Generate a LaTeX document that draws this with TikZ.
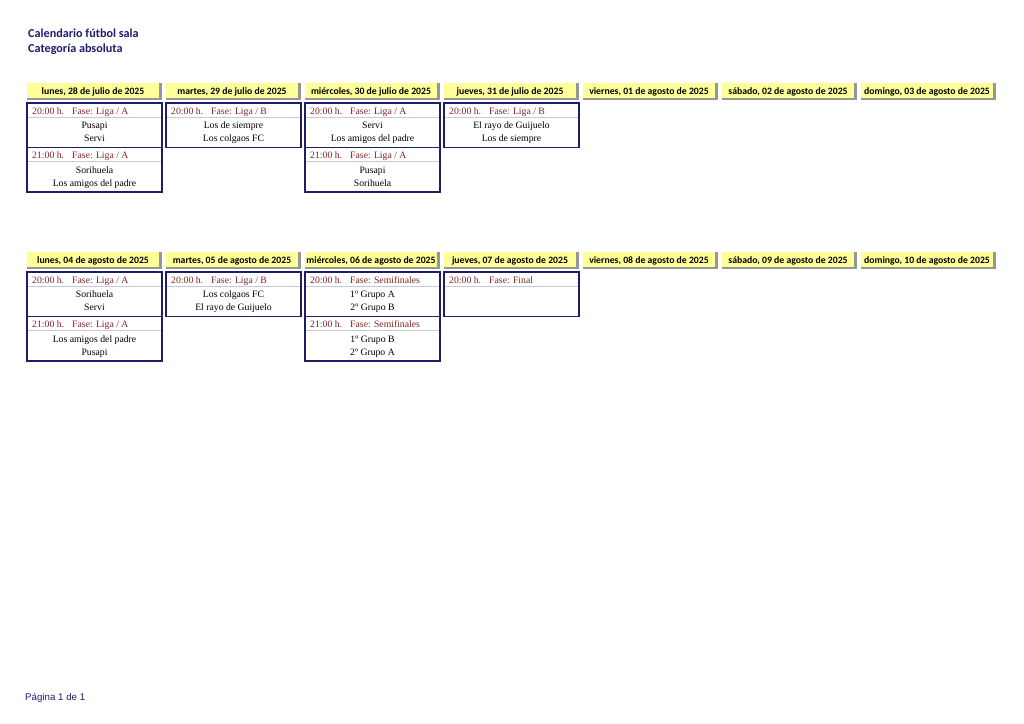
\documentclass[tikz,border=0pt]{standalone}
\usepackage{fontspec}
\setmainfont{Liberation Serif}
\newfontfamily\calibri{Carlito}
\newfontfamily\arialfont{Liberation Sans}
\definecolor{titleblue}{RGB}{28,28,110}
\definecolor{boxblue}{RGB}{30,30,100}
\definecolor{timered}{RGB}{128,36,36}
\definecolor{headyellow}{RGB}{255,255,153}
\definecolor{headshadow}{RGB}{150,150,150}
\definecolor{sepgray}{RGB}{200,200,215}

% one match: col, week, slot, time, fase, team 1, team 2
\newcommand\partido[7]{%
  \pgfmathsetmacro\bx{27+139*#1}%
  \pgfmathsetmacro\by{103+169*#2+44.5*#3}%
  \draw[sepline] (\bx,\by+14) -- ++(135,0);
  \draw[boxline] (\bx,\by) rectangle ++(135,44.5);
  \node[timetxt] (t-#1-#2-#3) at (\bx+5,\by+11.3) {#4 h.};
  \node[timetxt] (f-#1-#2-#3) at (\bx+45,\by+11.3) {Fase: #5};
  \node[teamtxt] (a-#1-#2-#3) at (\bx+67.5,\by+25.5) {#6};
  \node[teamtxt] (b-#1-#2-#3) at (\bx+67.5,\by+38.5) {#7};
}

\begin{document}
\begin{tikzpicture}[x=0.8223pt, y=-0.8223pt,
    titletxt/.style={font=\calibri\bfseries\fontsize{10}{12}\selectfont, text=titleblue, anchor=base west, inner sep=0pt},
    headtxt/.style={font=\calibri\bfseries\fontsize{8}{9}\selectfont, anchor=base, inner sep=0pt},
    timetxt/.style={font=\fontsize{8}{9}\selectfont, text=timered, anchor=base west, inner sep=0pt},
    teamtxt/.style={font=\fontsize{8}{9}\selectfont, anchor=base, inner sep=0pt},
    boxline/.style={boxblue, line width=1.4pt},
    sepline/.style={sepgray, line width=0.5pt}]
    \useasboundingbox (0,0) rectangle (1024,724);

    % Title
    \node[titletxt] (title) at (28,37) {Calendario fútbol sala};
    \node[titletxt] (subtitle) at (28,52) {Categoría absoluta};

    % Day headers, both weeks
    \foreach \txt [count=\i from 0] in {{lunes, 28 de julio de 2025},{martes, 29 de julio de 2025},
        {miércoles, 30 de julio de 2025},{jueves, 31 de julio de 2025},{viernes, 01 de agosto de 2025},
        {sábado, 02 de agosto de 2025},{domingo, 03 de agosto de 2025}} {
        \fill[headshadow] (27+139*\i,83) rectangle ++(135,17);
        \fill[headyellow] (27+139*\i,83) rectangle ++(132,15);
        \node[headtxt] (h-\i-0) at (93+139*\i,94) {\txt};
    }
    \foreach \txt [count=\i from 0] in {{lunes, 04 de agosto de 2025},{martes, 05 de agosto de 2025},
        {miércoles, 06 de agosto de 2025},{jueves, 07 de agosto de 2025},{viernes, 08 de agosto de 2025},
        {sábado, 09 de agosto de 2025},{domingo, 10 de agosto de 2025}} {
        \fill[headshadow] (27+139*\i,252) rectangle ++(135,17);
        \fill[headyellow] (27+139*\i,252) rectangle ++(132,15);
        \node[headtxt] (h-\i-1) at (93+139*\i,263) {\txt};
    }

    % First week
    \partido{0}{0}{0}{20:00}{Liga / A}{Pusapi}{Servi}
    \partido{0}{0}{1}{21:00}{Liga / A}{Sorihuela}{Los amigos del padre}
    \partido{1}{0}{0}{20:00}{Liga / B}{Los de siempre}{Los colgaos FC}
    \partido{2}{0}{0}{20:00}{Liga / A}{Servi}{Los amigos del padre}
    \partido{2}{0}{1}{21:00}{Liga / A}{Pusapi}{Sorihuela}
    \partido{3}{0}{0}{20:00}{Liga / B}{El rayo de Guijuelo}{Los de siempre}

    % Second week
    \partido{0}{1}{0}{20:00}{Liga / A}{Sorihuela}{Servi}
    \partido{0}{1}{1}{21:00}{Liga / A}{Los amigos del padre}{Pusapi}
    \partido{1}{1}{0}{20:00}{Liga / B}{Los colgaos FC}{El rayo de Guijuelo}
    \partido{2}{1}{0}{20:00}{Semifinales}{1º Grupo A}{2º Grupo B}
    \partido{2}{1}{1}{21:00}{Semifinales}{1º Grupo B}{2º Grupo A}
    \partido{3}{1}{0}{20:00}{Final}{}{}

    % Footer
    \node[font=\arialfont\fontsize{8}{9}\selectfont, text=titleblue, anchor=base west, inner sep=0pt] (pie) at (25,700) {Página 1 de 1};
\end{tikzpicture}
\end{document}
